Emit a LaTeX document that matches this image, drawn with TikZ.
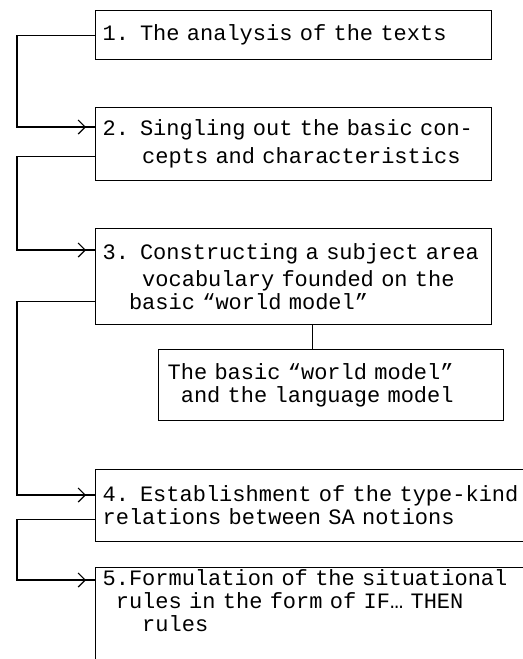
\documentclass[tikz,border=0pt]{standalone}
\usepackage{fontspec}
\newfontfamily\monofnt{Liberation Mono}
\usepackage{tikz}
\usetikzlibrary{arrows.meta}
\usetikzlibrary{decorations.markings}

\begin{document}
\begin{tikzpicture}[x=0.5pt,y=-0.5pt,
	stagebox/.style={draw,line width=0.6pt,anchor=north west,align=left,inner xsep=3.5pt,font=\monofnt\fontsize{11}{11.5}\selectfont},
	link/.style={line width=0.6pt,postaction={decorate},decoration={markings,mark=at position -4.5pt with {\arrow{Straight Barb[length=3.5pt,width=7pt]}}}}]
	\useasboundingbox (0,0) rectangle (523,659);
	\clip (0,0) rectangle (523,659);
	% the five stages
	\node[stagebox,text width=191pt,minimum height=24.5pt] (b1) at (95,10) {1. The analysis of the texts};
	\node[stagebox,text width=191pt,minimum height=36.5pt] (b2) at (95,107) {2. Singling out the basic con-\\[2.5pt]\hphantom{000}cepts and characteristics};
	\node[stagebox,text width=191pt,minimum height=48pt] (b3) at (95,228) {3. Constructing a subject area\\[2pt]\hphantom{000}vocabulary founded on the\\\hphantom{00}basic “world model”};
	\node[stagebox,text width=163.5pt,inner xsep=4.5pt,minimum height=35.5pt] (wm) at (158,349) {The basic “world model”\\\hphantom{0}and the language model};
	\node[stagebox,text width=218pt,minimum height=36pt] (b4) at (95,469) {4. Establishment of the type-kind\\relations between SA notions};
	\node[stagebox,text width=218pt,inner ysep=1pt,text depth=60pt] (b5) at (95,567) {5.Formulation of the situational\\\hphantom{0}rules in the form of IF… THEN\\\hphantom{000}rules};
	% links
	\draw[link] (b1.west) -- ++(-78,0) |- ([yshift=-10pt]b2.north west);
	\draw[link] ([yshift=12.5pt]b2.south west) -- ++(-78,0) |- ([yshift=-11pt]b3.north west);
	\draw[link] ([yshift=12pt]b3.south west) -- ++(-78,0) |- ([yshift=-13pt]b4.north west);
	\draw[link] ([yshift=11.5pt]b4.south west) -- ++(-78,0) |- ([yshift=-6.5pt]b5.north west);
	\draw[line width=0.6pt] ([xshift=9.5pt]b3.south) -- ([xshift=9.5pt]b3.south |- wm.north);
\end{tikzpicture}
\end{document}
